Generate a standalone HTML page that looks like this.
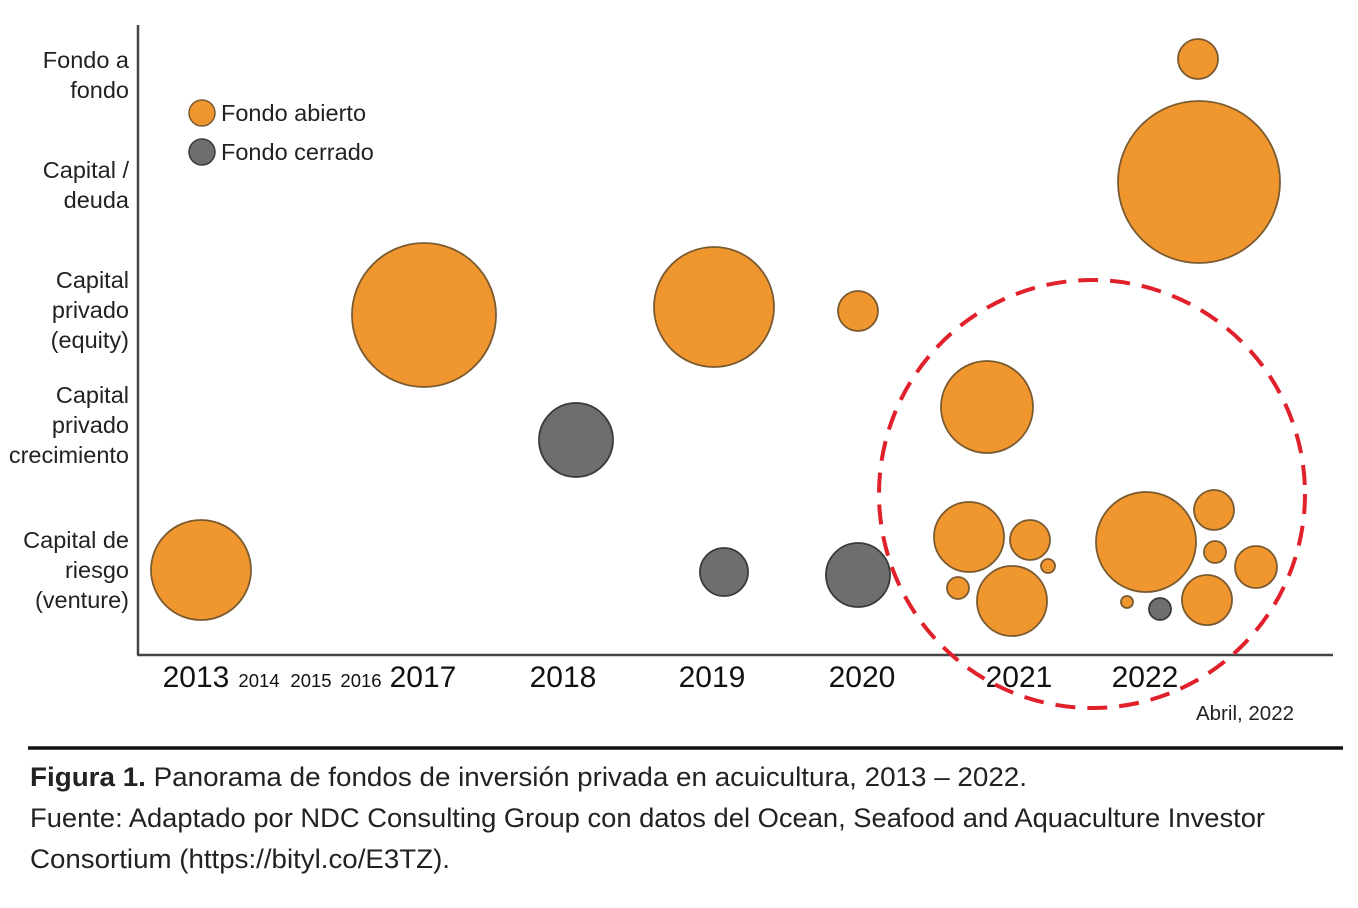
<!DOCTYPE html>
<html><head><meta charset="utf-8"><style>
html,body{margin:0;padding:0;background:#fff;}
svg{display:block;font-family:"Liberation Sans",Arial,sans-serif;}
</style></head><body>
<svg id="chart" width="1358" height="908" viewBox="0 0 1358 908">
<g id="axes">
<line x1="138" y1="25" x2="138" y2="655" stroke="#444" stroke-width="2.5"/>
<line x1="137" y1="655" x2="1333" y2="655" stroke="#444" stroke-width="2.5"/>
</g>
<g id="ylabels" font-size="23.5" fill="#222" text-anchor="end"></g>
<g id="xlabels" fill="#111" text-anchor="middle"></g>
<g id="bubbles"></g>
<ellipse cx="1092" cy="494" rx="213" ry="214" fill="none" stroke="#e0202a" stroke-width="4" stroke-dasharray="20 12"/>
<text x="1245" y="720" font-size="20.5" fill="#222" text-anchor="middle">Abril, 2022</text>
<g>
<g>
<circle cx="202" cy="113" r="13" fill="#f0962f" stroke="#7a5a30" stroke-width="1.5"/>
<text x="221" y="121" font-size="23.5" fill="#222">Fondo abierto</text></g>
<g>
<circle cx="202" cy="152" r="13" fill="#6d6e70" stroke="#3a3a3a" stroke-width="1.5"/>
<text x="221" y="160" font-size="23.5" fill="#222">Fondo cerrado</text></g>
</g>
<line x1="28" y1="748" x2="1343" y2="748" stroke="#111" stroke-width="3.5"/>
<g font-family="'Liberation Sans Narrow','Liberation Sans',sans-serif" font-size="27" fill="#222">
<text x="30" y="786" textLength="997" lengthAdjust="spacingAndGlyphs"><tspan font-weight="bold">Figura 1.</tspan> Panorama de fondos de inversión privada en acuicultura, 2013 – 2022.</text>
<text x="30" y="827" textLength="1235" lengthAdjust="spacingAndGlyphs">Fuente: Adaptado por NDC Consulting Group con datos del Ocean, Seafood and Aquaculture Investor</text>
<text x="30" y="868" textLength="420" lengthAdjust="spacingAndGlyphs">Consortium (https://bityl.co/E3TZ).</text>
</g>
</svg>
<script>
// categories (y rows)
const categories = [["Capital de","riesgo","(venture)"],["Capital","privado","crecimiento"],["Capital","privado","(equity)"],["Capital /","deuda"],["Fondo a","fondo"]];
const categoryY = [8.5, 23, 34.5, 47, 58];
// x tick labels and positions (data units)
const tickLabels = ["2013","2014","2015","2016","2017","2018","2019","2020","2021","2022"];
const tickX = [5.8, 12.1, 17.3, 22.3, 28.5, 42.5, 57.4, 72.4, 88.1, 100.7];
const tickBig = [1,0,0,0,1,1,1,1,1,1];
// bubble series
const bubbleX = [6.3, 28.6, 43.8, 57.6, 72.0, 58.6, 72.0, 84.9, 83.1, 89.2, 91.0, 82.0, 87.4, 106.1, 106.0, 100.8, 107.6, 107.7, 111.8, 98.9, 102.2, 106.9];
const bubbleY = [8.5, 34.0, 21.5, 34.8, 34.4, 8.3, 8.0, 24.8, 11.8, 11.5, 8.9, 6.7, 5.4, 47.3, 59.6, 11.3, 14.5, 10.3, 8.8, 5.3, 4.6, 5.5];
const bubbleR = [50, 72, 37, 60, 20, 24, 32, 46, 35, 20, 7, 11, 35, 81, 20, 50, 20, 11, 21, 6, 11, 25];
const bubbleType = ["open","open","closed","open","open","closed","closed","open","open","open","open","open","open","open","open","open","open","open","open","open","closed","open"];

const sx = v => 138 + v * 10;
const sy = v => 655 - v * 10;
const NS = "http://www.w3.org/2000/svg";
const yl = document.getElementById("ylabels");
categories.forEach((lines, i) => {
  const t = document.createElementNS(NS, "text");
  
  
  const n = lines.length;
  lines.forEach((s, k) => {
    const ts = document.createElementNS(NS, "tspan");
    ts.setAttribute("x", 129);
    ts.setAttribute("y", sy(categoryY[i]) + (k - (n - 1) / 2) * 30 + 8);
    ts.textContent = s;
    t.appendChild(ts);
  });
  yl.appendChild(t);
});
const xl = document.getElementById("xlabels");
tickLabels.forEach((s, i) => {
  const t = document.createElementNS(NS, "text");
  
  
  t.setAttribute("x", sx(tickX[i]));
  t.setAttribute("y", 687);
  t.setAttribute("font-size", tickBig[i] ? 30 : 18.5);
  t.textContent = s;
  xl.appendChild(t);
});
const bg = document.getElementById("bubbles");
bubbleX.forEach((x, i) => {
  const c = document.createElementNS(NS, "circle");
  
  
  c.setAttribute("cx", sx(x));
  c.setAttribute("cy", sy(bubbleY[i]));
  c.setAttribute("r", bubbleR[i]);
  c.setAttribute("fill", bubbleType[i] === "open" ? "#f0962f" : "#6d6e70");
  c.setAttribute("stroke", bubbleType[i] === "open" ? "#7a5a30" : "#3a3a3a");
  c.setAttribute("stroke-width", "1.8");
  bg.appendChild(c);
});
</script>
</body></html>
